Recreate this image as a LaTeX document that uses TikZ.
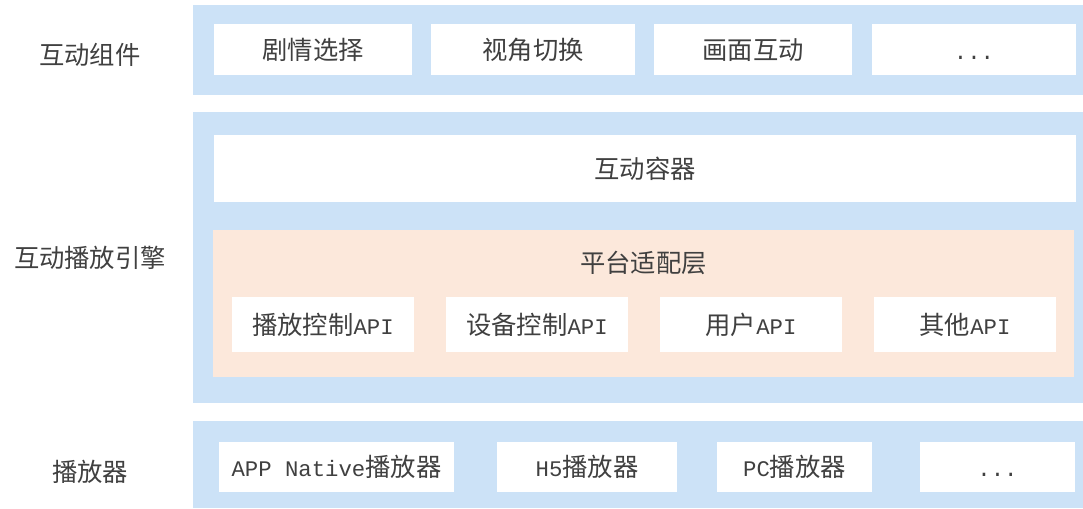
\documentclass[tikz,border=0pt]{standalone}
\usepackage{fontspec}
\setmainfont{Liberation Mono}[Scale=0.88]
\newfontfamily\cjk{Noto Sans CJK SC}

\definecolor{bandblue}{RGB}{204,226,247}
\definecolor{peach}{RGB}{252,232,219}
\definecolor{txtgray}{RGB}{64,64,64}

\tikzset{
  size/.style 2 args={minimum width=#1*0.75pt, minimum height=#2*0.75pt},
  band/.style={fill=bandblue, inner sep=0pt},
  layer/.style={fill=peach, inner sep=0pt},
  cell/.style={fill=white, inner sep=0pt, text=txtgray, text height=16pt, text depth=1.5pt},
  title/.style={text=txtgray, inner sep=0pt}
}

\begin{document}
\begin{tikzpicture}[x=0.75pt, y=-0.75pt, font=\fontsize{19}{22}\selectfont]
   \useasboundingbox (0,0) rectangle (1083,508);

   % bands
   \node[band, size={890}{90}]  (comp)   at (638,50)    {};
   \node[band, size={890}{291}] (engine) at (638,257.5) {};
   \node[band, size={890}{87}]  (player) at (638,464.5) {};

   % left titles
   \node[title] (comp-t)   at (90,55)  {\cjk 互动组件};
   \node[title] (engine-t) at (90,258) {\cjk 互动播放引擎};
   \node[title] (player-t) at (90,472) {\cjk 播放器};

   % interactive components
   \node[cell, size={198}{51}] (plot)  at (313,49.5) {\cjk 剧情选择};
   \node[cell, size={204}{51}] (view)  at (533,49.5) {\cjk 视角切换};
   \node[cell, size={198}{51}] (scene) at (753,49.5) {\cjk 画面互动};
   \node[cell, size={204}{51}] (more1) at (974,49.5) {...};

   % engine
   \node[cell, size={862}{67}]   (container) at (645,168.5)   {\cjk 互动容器};
   \node[layer, size={861}{147}] (adapt)     at (643.5,303.5) {};
   \node[title] (adapt-t) at (643.5,263) {\cjk 平台适配层};
   \node[cell, size={182}{55}] (api-play)  at (323,324.5) {{\cjk 播放控制}API};
   \node[cell, size={182}{55}] (api-dev)   at (537,324.5) {{\cjk 设备控制}API};
   \node[cell, size={182}{55}] (api-user)  at (751,324.5) {{\cjk 用户}API};
   \node[cell, size={182}{55}] (api-other) at (965,324.5) {{\cjk 其他}API};

   % players
   \node[cell, size={235}{50}] (native) at (336.5,467) {APP Native{\cjk 播放器}};
   \node[cell, size={180}{50}] (h5)     at (587,467)   {H5{\cjk 播放器}};
   \node[cell, size={155}{50}] (pc)     at (794.5,467) {PC{\cjk 播放器}};
   \node[cell, size={155}{50}] (more2)  at (997.5,467) {...};
\end{tikzpicture}
\end{document}
